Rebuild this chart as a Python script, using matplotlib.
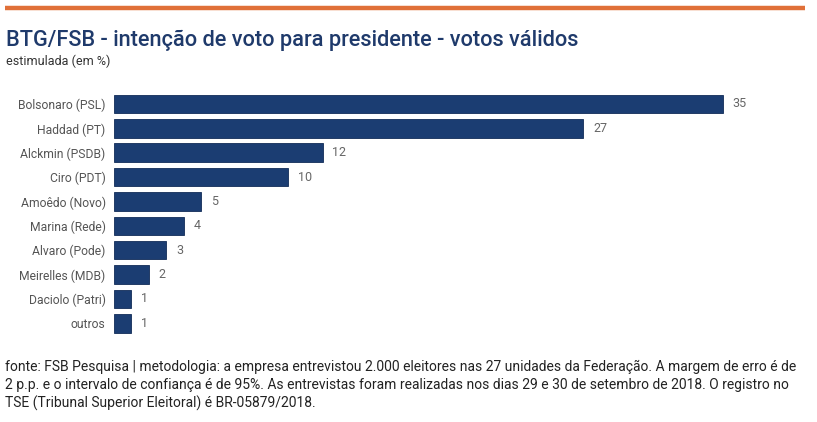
import matplotlib
matplotlib.use("Agg")
import matplotlib.pyplot as plt

categories = ["Bolsonaro (PSL)", "Haddad (PT)", "Alckmin (PSDB)", "Ciro (PDT)",
              "Amoêdo (Novo)", "Marina (Rede)", "Alvaro (Pode)", "Meirelles (MDB)",
              "Daciolo (Patri)", "outros"]
values = [35, 27, 12, 10, 5, 4, 3, 2, 1, 1]

title = "BTG/FSB - intenção de voto para presidente - votos válidos"
subtitle = "estimulada (em %)"
footer = ("fonte: FSB Pesquisa | metodologia: a empresa entrevistou 2.000 eleitores nas 27 unidades da Federação. A margem de erro é de\n"
          "2 p.p. e o intervalo de confiança é de 95%. As entrevistas foram realizadas nos dias 29 e 30 de setembro de 2018. O registro no\n"
          "TSE (Tribunal Superior Eleitoral) é BR-05879/2018.")

plt.rcParams['font.family'] = ['Roboto', 'DejaVu Sans']

W, H = 817, 422
fig = plt.figure(figsize=(W / 100, H / 100), dpi=100)
fig.patch.set_facecolor('white')

# orange top rule
fig.add_artist(plt.Line2D([5 / W, 805 / W], [1 - 8 / H, 1 - 8 / H],
                          color='#e07038', lw=3.2, solid_capstyle='butt'))

fig.text(6 / W, 1 - 40 / H, title, fontsize=15.7, color='#1f3a6b',
         fontweight='medium', va='center', ha='left')
fig.text(6 / W, 1 - 61 / H, subtitle, fontsize=9, color='#333333',
         va='center', ha='left')

x0 = 114
px_per_unit = (722.5 - 114) / 35
xmax = 40
ax_w = xmax * px_per_unit
spacing = 24.37
top_px = 104 - spacing / 2
bot_px = 323.3 + spacing / 2
ax = fig.add_axes([x0 / W, 1 - bot_px / H, ax_w / W, (bot_px - top_px) / H])
ypos = list(range(len(categories)))
ax.barh(ypos, values, height=0.76, color='#1b3d72', edgecolor='#122c58', linewidth=0.6)
ax.set_xlim(0, xmax)
ax.set_ylim(len(categories) - 0.5, -0.5)
ax.set_yticks(ypos)
ax.set_yticklabels(categories, fontsize=8.7, color='#555555')
ax.tick_params(axis='y', length=0, pad=6)
ax.set_xticks([])
for s in ax.spines.values():
    s.set_visible(False)
for y, v in zip(ypos, values):
    ax.annotate(str(v), (v, y), xytext=(7, 0), textcoords='offset points',
                va='center', ha='left', fontsize=9, color='#666666')

fig.text(5 / W, 1 - 385.5 / H, footer, fontsize=10, color='#222222',
         va='center', ha='left', linespacing=1.33)

fig.savefig("out.png", dpi=100, facecolor='white')
